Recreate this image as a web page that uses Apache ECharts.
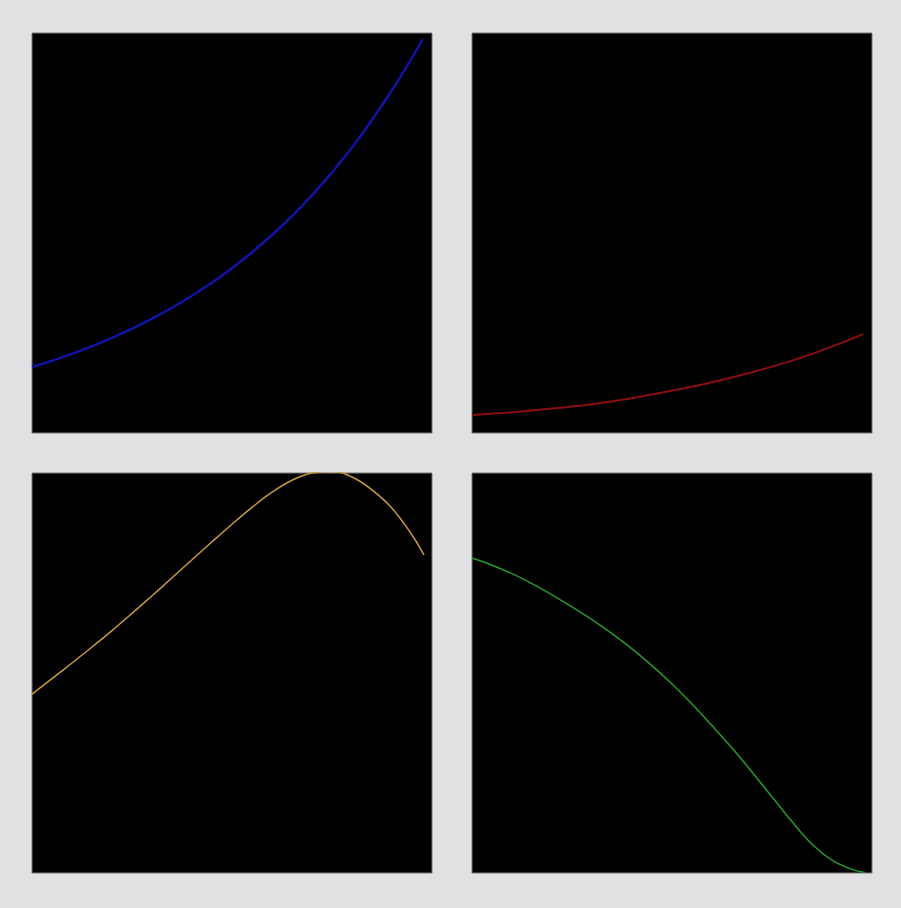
<!DOCTYPE html>
<html>
<head>
<meta charset="UTF-8">
<title>four curves</title>
<script src="https://cdn.jsdelivr.net/npm/echarts@6/dist/echarts.min.js"></script>
<style>
  html, body { margin: 0; padding: 0; background: #e1e0e2; }
</style>
</head>
<body>
<div id="main" style="width:901px;height:908px;"></div>
<script>
// values, x and y both in 0..1 of each panel
var blueX = [0, 0.1, 0.2, 0.3, 0.4, 0.5, 0.6, 0.7, 0.8, 0.9, 0.977];
var blueY = [0.165, 0.198, 0.238, 0.286, 0.343, 0.412, 0.495, 0.594, 0.714, 0.857, 0.985];

var redX = [0, 0.1, 0.2, 0.3, 0.4, 0.5, 0.6, 0.7, 0.8, 0.9, 0.978];
var redY = [0.045, 0.052, 0.061, 0.072, 0.087, 0.106, 0.127, 0.152, 0.181, 0.216, 0.247];

var orangeX = [0, 0.05, 0.1, 0.15, 0.2, 0.25, 0.3, 0.35, 0.4, 0.45, 0.5, 0.55, 0.6, 0.65, 0.7, 0.75, 0.8, 0.85, 0.9, 0.95, 0.98];
var orangeY = [0.447, 0.486, 0.525, 0.565, 0.606, 0.649, 0.693, 0.738, 0.783, 0.828, 0.872, 0.914, 0.952, 0.982, 1.0, 1.004, 0.990, 0.958, 0.912, 0.845, 0.795];

var greenX = [0, 0.05, 0.1, 0.15, 0.2, 0.25, 0.3, 0.35, 0.4, 0.45, 0.5, 0.55, 0.6, 0.65, 0.7, 0.75, 0.8, 0.85, 0.9, 0.95, 0.9825];
var greenY = [0.7875, 0.7695, 0.7485, 0.7235, 0.6955, 0.6655, 0.6335, 0.5985, 0.5605, 0.5185, 0.4725, 0.4225, 0.3685, 0.3125, 0.2525, 0.1905, 0.1285, 0.072, 0.032, 0.009, 0.001];

function pairs(xs, ys) {
  return xs.map(function (x, i) { return [x, ys[i]]; });
}

var panels = [
  { left: 32, top: 33, data: pairs(blueX, blueY), color: '#1212a6', width: 2.5 },
  { left: 472, top: 33, data: pairs(redX, redY), color: '#8a0e0e', width: 2 },
  { left: 32, top: 473, data: pairs(orangeX, orangeY), color: '#c89a3c', width: 1.5 },
  { left: 472, top: 473, data: pairs(greenX, greenY), color: '#279a29', width: 1.5 }
];

var myChart = echarts.init(document.getElementById('main'));

var option = {
  backgroundColor: '#e1e0e2',
  animation: false,
  grid: [],
  xAxis: [],
  yAxis: [],
  series: []
};

panels.forEach(function (p, i) {
  option.grid.push({
    left: p.left, top: p.top, width: 400, height: 400,
    show: true, backgroundColor: '#000', borderColor: '#7a7a7a', borderWidth: 1
  });
  option.xAxis.push({ type: 'value', gridIndex: i, min: 0, max: 1, show: false });
  option.yAxis.push({ type: 'value', gridIndex: i, min: 0, max: 1, show: false });
  option.series.push({
    type: 'line',
    xAxisIndex: i,
    yAxisIndex: i,
    data: p.data,
    smooth: 0.4,
    showSymbol: false,
    clip: true,
    lineStyle: { color: p.color, width: p.width }
  });
});

myChart.setOption(option);
</script>
</body>
</html>
